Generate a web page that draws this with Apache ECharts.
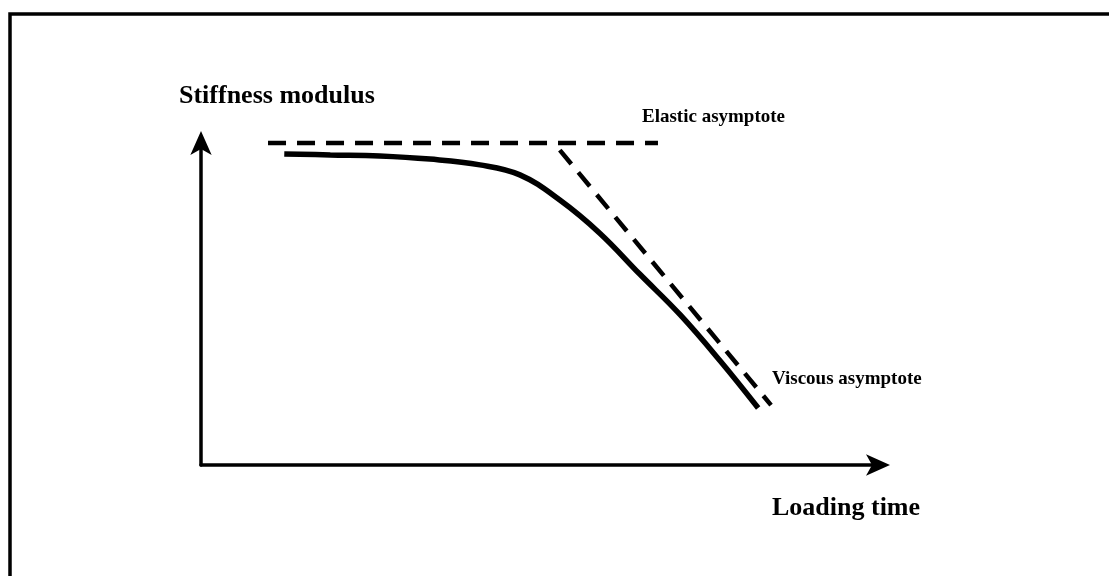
<!DOCTYPE html>
<html>
<head>
<meta charset="utf-8">
<script src="https://cdn.jsdelivr.net/npm/echarts@6/dist/echarts.min.js"></script>
<style>
  html, body { margin: 0; padding: 0; background: #fff; }
  #chart { width: 1109px; height: 576px; }
</style>
</head>
<body>
<div id="chart"></div>
<script>
// log loading time (x) and log stiffness (y), arbitrary units 0..10
const curveX = [1.23, 1.91, 2.64, 3.38, 4.12, 4.71, 5.30, 5.89, 6.48, 7.08, 7.67, 8.23];
const curveY = [9.66, 9.63, 9.60, 9.50, 9.32, 9.01, 8.23, 7.20, 5.93, 4.66, 3.23, 1.77];
const elasticX = [0.99, 6.75];
const elasticY = [10, 10];
const viscousX = [5.30, 8.42];
const viscousY = [9.78, 1.86];

const serif = "'Liberation Serif', 'DejaVu Serif', serif";

const chart = echarts.init(document.getElementById('chart'));

function zip(xs, ys) {
    return xs.map((x, i) => [x, ys[i]]);
}

const axisStyle = {
    type: 'value',
    min: 0,
    max: 10,
    axisLine: {
        show: true,
        symbol: ['none', 'arrow'],
        symbolSize: [16, 24],
        symbolOffset: [0, 12],
        lineStyle: { color: '#000', width: 3.5 }
    },
    axisTick: { show: false },
    axisLabel: { show: false },
    splitLine: { show: false }
};

const option = {
    animation: false,
    backgroundColor: '#fff',
    grid: { left: 201, right: 231, top: 143, bottom: 111 },
    xAxis: axisStyle,
    yAxis: axisStyle,
    series: [
        {
            name: 'Stiffness',
            type: 'line',
            data: zip(curveX, curveY),
            smooth: 0.4,
            showSymbol: false,
            clip: false,
            lineStyle: { color: '#000', width: 5.5 }
        },
        {
            name: 'Elastic asymptote',
            type: 'line',
            data: zip(elasticX, elasticY),
            showSymbol: false,
            clip: false,
            lineStyle: { color: '#000', width: 4.5, type: [18, 11] }
        },
        {
            name: 'Viscous asymptote',
            type: 'line',
            data: zip(viscousX, viscousY),
            showSymbol: false,
            clip: false,
            lineStyle: { color: '#000', width: 4.5, type: [18, 11] }
        }
    ],
    graphic: [
        {
            type: 'rect',
            shape: { x: 10, y: 14, width: 1200, height: 700 },
            style: { fill: 'none', stroke: '#000', lineWidth: 3.5 }
        },
        {
            type: 'text', x: 179, y: 96,
            style: { text: 'Stiffness modulus', font: 'bold 26px ' + serif, fill: '#000', verticalAlign: 'middle' }
        },
        {
            type: 'text', x: 772, y: 508,
            style: { text: 'Loading time', font: 'bold 26px ' + serif, fill: '#000', verticalAlign: 'middle' }
        },
        {
            type: 'text', x: 642, y: 117,
            style: { text: 'Elastic asymptote', font: 'bold 19px ' + serif, fill: '#000', verticalAlign: 'middle' }
        },
        {
            type: 'text', x: 772, y: 379,
            style: { text: 'Viscous asymptote', font: 'bold 19px ' + serif, fill: '#000', verticalAlign: 'middle' }
        }
    ]
};

chart.setOption(option);
</script>
</body>
</html>
